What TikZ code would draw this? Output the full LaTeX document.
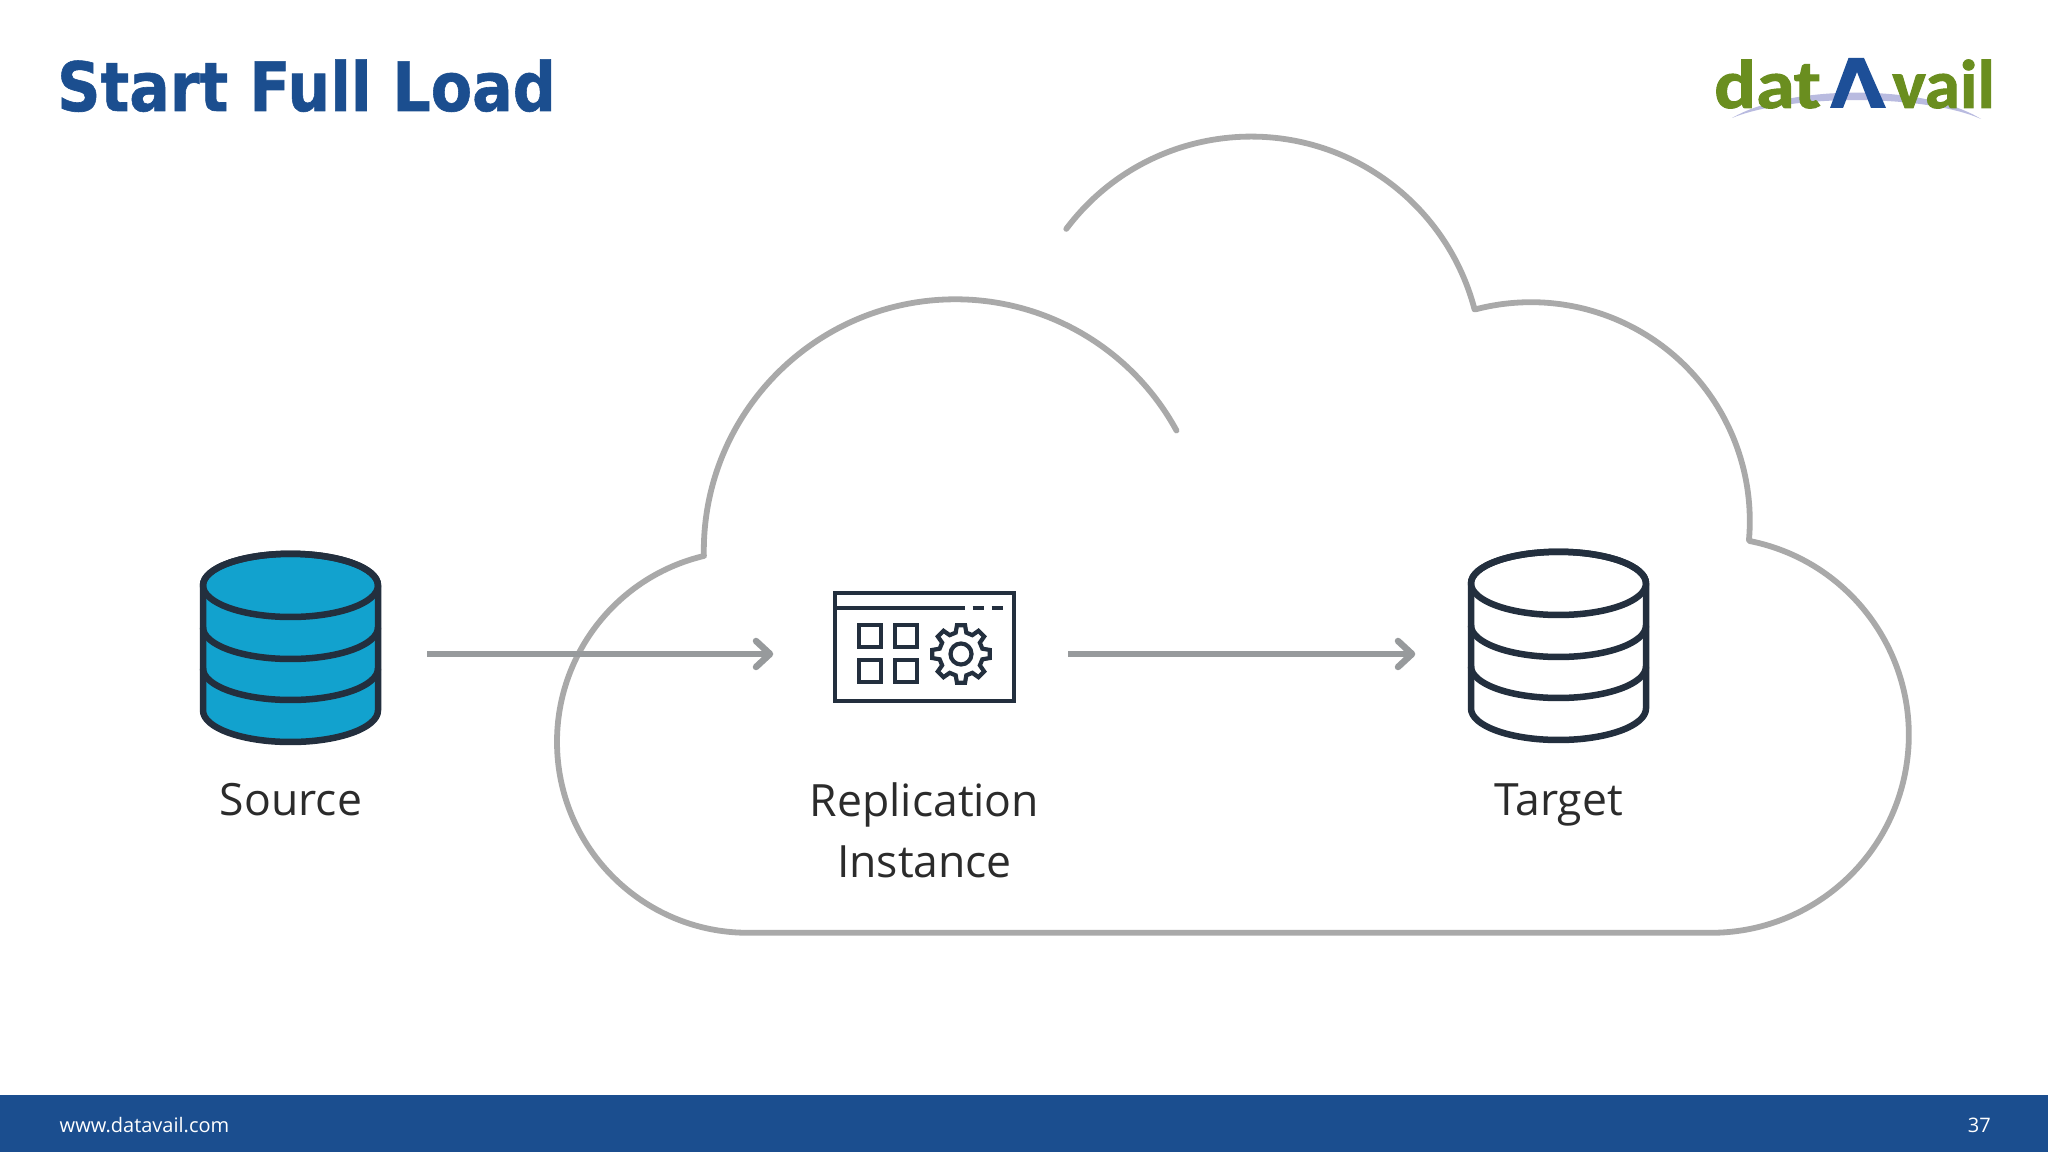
\documentclass[tikz,border=0pt]{standalone}
\usepackage{fontspec}
\setmainfont{Open Sans}
\newfontfamily\titlefont{DejaVu Sans}[BoldFeatures={FakeBold=0.9}]
\newfontfamily\logofont{Carlito}[BoldFeatures={FakeBold=1.4}]
\definecolor{brandblue}{HTML}{1B4E8F}
\definecolor{logogreen}{HTML}{6A8E1F}
\definecolor{logoblue}{HTML}{1D4F98}
\definecolor{logoarc}{HTML}{B9BBE0}
\definecolor{ink}{HTML}{232F3E}
\definecolor{dbblue}{HTML}{12A2CE}
\definecolor{cloudgray}{HTML}{A9A9A9}
\definecolor{arrowgray}{HTML}{979A9C}
\definecolor{labeltext}{HTML}{2B2B2B}
\tikzset{
  cloudline/.style={draw=cloudgray,line width=5.8pt,line cap=round,line join=round},
  flow/.style={draw=arrowgray,line width=6.5pt},
  chevron/.style={draw=arrowgray,line width=6.5pt,line cap=round,line join=round},
  iconline/.style={draw=ink,line width=4.2pt},
  dbline/.style={draw=ink,line width=6.5pt,line join=round},
  anchorbox/.style={inner sep=0pt,outer sep=0pt,minimum height=10pt},
  lbl/.style={text=labeltext,font=\fontsize{44.5}{61}\selectfont,align=center,anchor=base,inner sep=0pt},
  foot/.style={text=white,font=\fontsize{20}{24}\selectfont,inner sep=0pt},
  logotxt/.style={text=logogreen,font=\logofont\bfseries\fontsize{69}{69}\selectfont,inner sep=0pt,anchor=base west},
}
\newcommand{\dbicon}[3]{%
  \begin{scope}[shift={(#1,#2)}]
    \draw[dbline,fill=#3] (-87.5,0) arc[start angle=180,end angle=0,x radius=87.5,y radius=31.6]
      -- (87.5,-125) arc[start angle=0,end angle=-180,x radius=87.5,y radius=31.6] -- cycle;
    \draw[dbline] (0,0) ellipse[x radius=87.5,y radius=31.6];
    \draw[dbline] (-87.5,-42) arc[start angle=180,end angle=360,x radius=87.5,y radius=31.6];
    \draw[dbline] (-87.5,-83) arc[start angle=180,end angle=360,x radius=87.5,y radius=31.6];
  \end{scope}}
\begin{document}
\begin{tikzpicture}[x=1pt,y=1pt]
\useasboundingbox (0,0) rectangle (2048,1152);
\fill[white] (0,0) rectangle (2048,1152);
% footer
\fill[brandblue] (0,0) rectangle (2048,57.5);
\node[foot,anchor=west] (url) at (59.5,27) {www.datavail.com};
\node[foot,anchor=east] (pageno) at (1991,27) {37};
% title
\node[text=brandblue,font=\titlefont\bfseries\fontsize{68}{68}\selectfont,anchor=base west,inner sep=0pt,xscale=0.885] (title) at (57,1041) {Start Full Load};
% logo
\fill[logoarc] (1732,1034) .. controls (1790,1068) and (1925,1068) .. (1981,1033)
   .. controls (1925,1058) and (1790,1058) .. cycle;
\node[logotxt,xscale=1.13] (logodat) at (1714,1044) {dat};
\node[logotxt,xscale=1.03] (logovail) at (1892,1044) {vail};
\fill[logoblue] (1830,1044) -- (1848.5,1094) -- (1864,1094) -- (1886,1044) -- (1871,1044) -- (1857,1080) -- (1843,1044) -- cycle;
% cloud
\draw[cloudline]
  ([shift={(1251,784.4)}]143.1:231) arc[start angle=143.1,end angle=14.6,radius=231]
  -- ([shift={(1531,631)}]104.4:218.8) arc[start angle=104.4,end angle=-4.9,radius=218.8]
  -- ([shift={(1711,417)}]78.8:197.8) arc[start angle=78.8,end angle=-90,radius=197.8]
  -- ([shift={(748,410.2)}]270:191) arc[start angle=270,end angle=103.3,radius=191]
  -- ([shift={(955.5,601)}]180.95:251.7) arc[start angle=180.95,end angle=28.6,radius=251.7];
% source and target icons
\dbicon{290.5}{566.6}{dbblue}
\dbicon{1558.5}{568.6}{white}
% replication instance icon
\draw[iconline] (835.3,451.3) rectangle (1014,559.3);
\draw[iconline] (835.3,544) -- (965,544);
\draw[iconline] (972.7,544) -- (984,544);
\draw[iconline] (991.7,544) -- (1003.3,544);
\draw[iconline] (859.3,505.3) rectangle (881.3,526.7);
\draw[iconline] (895.3,505.3) rectangle (917.3,526.7);
\draw[iconline] (859.3,470) rectangle (881.3,491.7);
\draw[iconline] (895.3,470) rectangle (917.3,491.7);
\begin{scope}[shift={(961,498)}]
  \draw[iconline,line join=miter] (-14:22)
    \foreach \a in {0,45,...,315}{ -- (\a-14:22) -- (\a-8:29) -- (\a+8:29) -- (\a+14:22) } -- cycle;
  \draw[iconline] (0,0) circle[radius=10.5];
\end{scope}
% connection anchors
\node[anchorbox,minimum width=274pt] (src) at (290,498) {};
\node[anchorbox,minimum width=298pt] (rep) at (919,498) {};
\node[anchorbox,minimum width=294pt] (tgt) at (1559,498) {};
\draw[flow] (src.east) -- (rep.west);
\draw[flow] (rep.east) -- (tgt.west);
\draw[chevron] ([shift={(-14,13)}]rep.west) -- (rep.west) -- ([shift={(-14,-13)}]rep.west);
\draw[chevron] ([shift={(-14,13)}]tgt.west) -- (tgt.west) -- ([shift={(-14,-13)}]tgt.west);
% labels
\node[lbl] (srclabel) at (291,336) {Source};
\node[lbl] (replabel) at (924.5,274) {Replication\\Instance};
\node[lbl] (tgtlabel) at (1558.5,336) {Target};
\end{tikzpicture}
\end{document}
